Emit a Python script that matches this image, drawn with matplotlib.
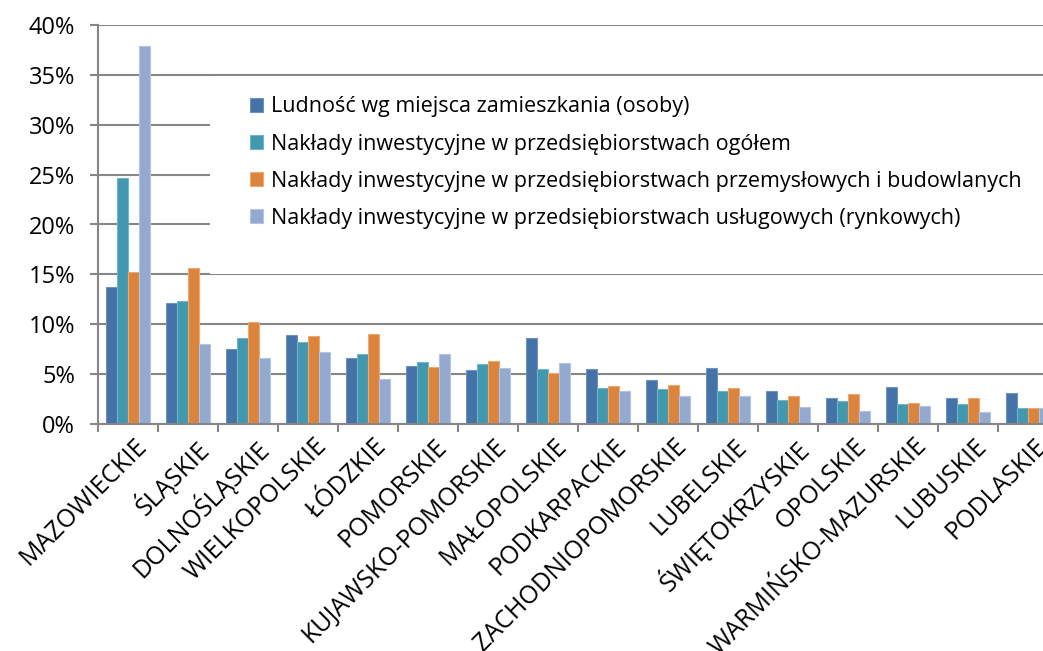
import numpy as np
import matplotlib
matplotlib.use("Agg")
from matplotlib import pyplot as plt
from matplotlib.patches import Rectangle
from matplotlib.ticker import FuncFormatter, FixedLocator
from matplotlib.transforms import ScaledTranslation

regions = ["MAZOWIECKIE", "ŚLĄSKIE", "DOLNOŚLĄSKIE", "WIELKOPOLSKIE", "ŁÓDZKIE",
           "POMORSKIE", "KUJAWSKO-POMORSKIE", "MAŁOPOLSKIE", "PODKARPACKIE",
           "ZACHODNIOPOMORSKIE", "LUBELSKIE", "ŚWIĘTOKRZYSKIE", "OPOLSKIE",
           "WARMIŃSKO-MAZURSKIE", "LUBUSKIE", "PODLASKIE"]

ludnosc = [13.7, 12.1, 7.5, 8.9, 6.6, 5.8, 5.4, 8.65, 5.5, 4.4, 5.6, 3.3, 2.6, 3.7, 2.6, 3.1]
naklady_ogolem = [24.7, 12.3, 8.6, 8.2, 7.0, 6.25, 6.0, 5.5, 3.6, 3.5, 3.3, 2.4, 2.3, 2.0, 2.0, 1.65]
naklady_przem = [15.2, 15.6, 10.2, 8.85, 9.0, 5.7, 6.3, 5.1, 3.85, 3.9, 3.6, 2.8, 3.0, 2.15, 2.6, 1.65]
naklady_uslug = [37.9, 8.0, 6.6, 7.2, 4.5, 7.0, 5.6, 6.15, 3.3, 2.8, 2.8, 1.75, 1.35, 1.85, 1.2, 1.6]

labels = ["Ludność wg miejsca zamieszkania (osoby)",
          "Nakłady inwestycyjne w przedsiębiorstwach ogółem",
          "Nakłady inwestycyjne w przedsiębiorstwach przemysłowych i budowlanych",
          "Nakłady inwestycyjne w przedsiębiorstwach usługowych (rynkowych)"]
colors = ["#4572A7", "#4198AF", "#DB843D", "#93A9CF"]
edges = ["#6F93C0", "#6FB6C8", "#F0A870", "#B4C5E2"]

plt.rcParams['font.family'] = ['Open Sans', 'DejaVu Sans']

W, H = 1043, 651
fig = plt.figure(figsize=(W / 100, H / 100), dpi=100)
ax = fig.add_axes([98 / W, (H - 424) / H, 960 / W, 399 / H])

series = [ludnosc, naklady_ogolem, naklady_przem, naklady_uslug]
x = np.arange(len(regions))
bw = 0.18
for i, vals in enumerate(series):
    ax.bar(x + (i - 1.5) * bw, vals, width=bw, color=colors[i], edgecolor=edges[i],
           linewidth=0.8, label=labels[i], zorder=2)

ax.set_xlim(-0.5, len(regions) - 0.5)
ax.set_ylim(0, 40)
ax.set_yticks(np.arange(0, 41, 5))
ax.yaxis.set_major_formatter(FuncFormatter(lambda v, p: "%d%%" % v))
ax.set_axisbelow(True)
ax.grid(axis='y', color='#868686', linewidth=1.5, zorder=0.5)

# white area behind the legend hides the gridlines
ax.add_patch(Rectangle((0.1167, 0.376), 1.0, 0.496, transform=ax.transAxes,
                       facecolor='white', edgecolor='none', zorder=1))

ax.xaxis.set_major_locator(FixedLocator(np.arange(-0.5, len(regions), 1.0)))
ax.xaxis.set_minor_locator(FixedLocator(x))
ax.set_xticklabels([])
ax.set_xticklabels(regions, minor=True, rotation=45, ha='right', va='top',
                   rotation_mode='anchor', fontsize=18)
ax.tick_params(axis='x', which='major', length=5.5, width=1.5, color='#868686')
ax.tick_params(axis='x', which='minor', length=0, pad=7)
ax.tick_params(axis='y', length=5.5, width=1.5, color='#868686', labelsize=17, pad=11)
shift = ScaledTranslation(6 / 100, 0, fig.dpi_scale_trans)
for lab in ax.get_xticklabels(minor=True):
    lab.set_transform(lab.get_transform() + shift)

for s in ['top', 'right']:
    ax.spines[s].set_visible(False)
for s in ['left', 'bottom']:
    ax.spines[s].set_color('#868686')
    ax.spines[s].set_linewidth(1.5)

leg = ax.legend(loc='upper left', bbox_to_anchor=(231 / W, 1 - 77 / H),
                bbox_transform=fig.transFigure, frameon=False, fontsize=15.5,
                handlelength=0.6, handleheight=0.6, handletextpad=0.35,
                labelspacing=0.75)

fig.savefig("out.png", dpi=100)
